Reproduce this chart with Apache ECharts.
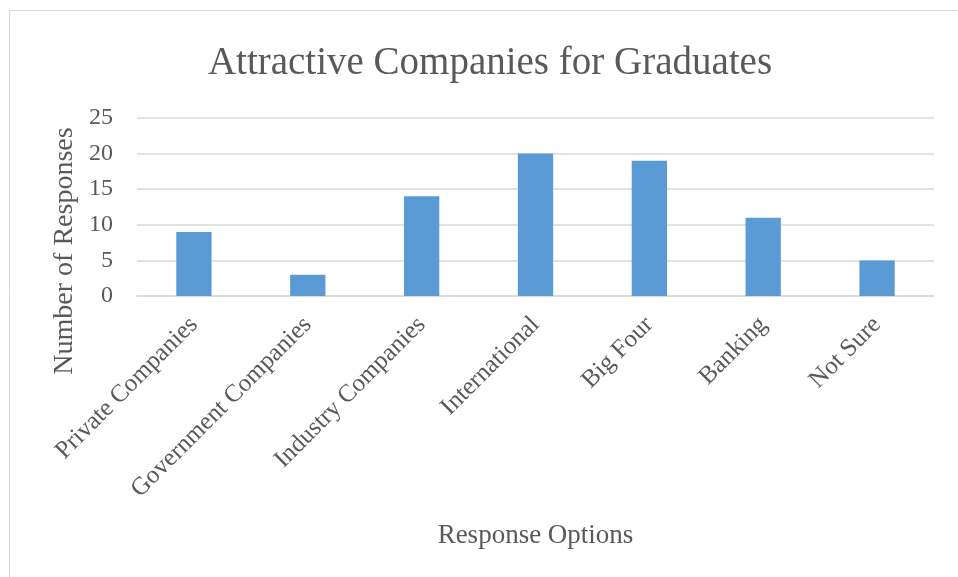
<!DOCTYPE html>
<html>
<head>
<meta charset="utf-8">
<style>
  html, body { margin: 0; padding: 0; background: #ffffff; }
  #chart { width: 958px; height: 577px; }
</style>
<script src="https://cdn.jsdelivr.net/npm/echarts@6/dist/echarts.min.js"></script>
</head>
<body>
<div id="chart"></div>
<script>
// Survey results: which kinds of employer graduates find attractive
const chartTitle = 'Attractive Companies for Graduates';
const xAxisTitle = 'Response Options';
const yAxisTitle = 'Number of Responses';
const categories = [
  'Private Companies',
  'Government Companies',
  'Industry Companies',
  'International',
  'Big Four',
  'Banking',
  'Not Sure'
];
const responses = [9, 3, 14, 20, 19, 11, 5];
const yTicks = { min: 0, max: 25, interval: 5 };

const FONT = '"Liberation Serif", "DejaVu Serif", serif';
const TEXT = '#595959';
const GRID = '#D9D9D9';
const BAR = '#5B9BD5';

const chart = echarts.init(document.getElementById('chart'), null, { renderer: 'canvas' });

chart.setOption({
  backgroundColor: '#ffffff',
  animation: false,
  title: {
    text: chartTitle,
    left: 485,
    top: 39,
    textAlign: 'center',
    textStyle: { fontFamily: FONT, fontSize: 39, fontWeight: 'normal', color: TEXT }
  },
  grid: { left: 137, right: 24, top: 118, bottom: 281, containLabel: false },
  xAxis: {
    type: 'category',
    data: categories,
    name: xAxisTitle,
    nameLocation: 'middle',
    nameGap: 226,
    nameTextStyle: { fontFamily: FONT, fontSize: 27, color: TEXT },
    axisLine: { show: true, lineStyle: { color: GRID, width: 1.5 } },
    axisTick: { show: false },
    axisLabel: {
      rotate: 45,
      interval: 0,
      margin: 25,
      fontFamily: FONT,
      fontSize: 25,
      color: TEXT
    }
  },
  yAxis: {
    type: 'value',
    min: yTicks.min,
    max: yTicks.max,
    interval: yTicks.interval,
    axisLine: { show: false },
    axisTick: { show: false },
    splitLine: { lineStyle: { color: GRID, width: 1.5 } },
    axisLabel: {
      margin: 24,
      fontFamily: FONT,
      fontSize: 24,
      color: TEXT
    }
  },
  series: [{
    type: 'bar',
    data: responses,
    barWidth: '31%',
    itemStyle: { color: BAR }
  }],
  graphic: [
    {
      type: 'rect',
      silent: true,
      shape: { x: 9.5, y: 10.5, width: 1000, height: 700 },
      style: { fill: 'none', stroke: GRID, lineWidth: 1 }
    },
    {
      type: 'text',
      x: 65,
      y: 251,
      rotation: Math.PI / 2,
      style: {
        text: yAxisTitle,
        fontFamily: FONT,
        fontSize: 28,
        fill: TEXT,
        textAlign: 'center',
        textVerticalAlign: 'middle'
      }
    }
  ]
});
</script>
</body>
</html>
